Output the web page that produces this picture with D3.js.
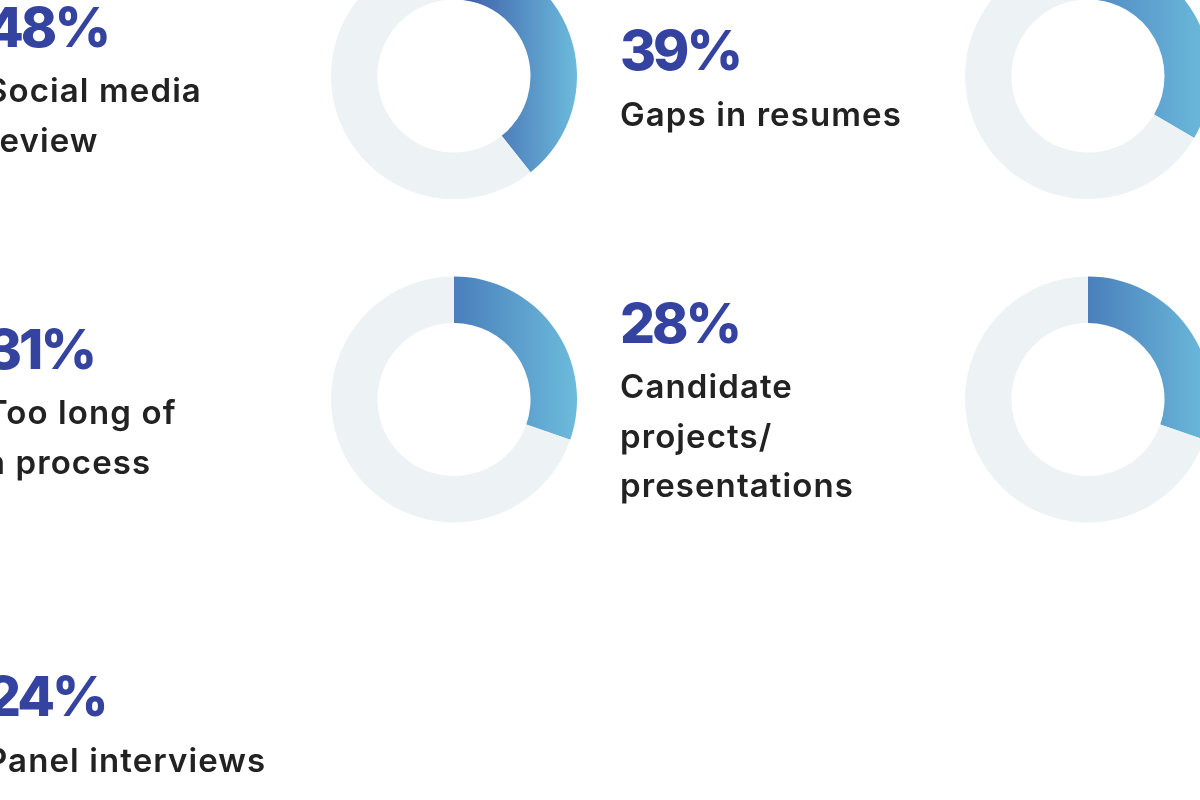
<!DOCTYPE html>
<html>
<head>
<meta charset="utf-8">
<script src="https://cdn.jsdelivr.net/npm/d3@7"></script>
<style>
  html, body { margin: 0; padding: 0; background: #fff; overflow: hidden; }
  svg { display: block; filter: blur(0.6px); }
  text { font-family: Inter, "Noto Sans", sans-serif; }
</style>
</head>
<body>
<svg id="chart" width="1200" height="800"></svg>
<script>
// donut values as drawn (percent of the ring)
const donutValues = [39.3, 33.4, 30.3, 30.3];
const donutRows = [0, 0, 1, 1];
const donutCols = [0, 1, 0, 1];
const donutStartColors = ["#3a57a5", "#5088c2", "#4a7fbb", "#4a7fbb"];

// stat labels
const statValues = ["48%", "39%", "31%", "28%", "24%"];
const statCols = [0, 1, 0, 1, 0];
const statLines = [
  ["Social media", "review"],
  ["Gaps in resumes"],
  ["Too long of", "a process"],
  ["Candidate", "projects/", "presentations"],
  ["Panel interviews"]
];

const svg = d3.select("#chart");

const colX = d3.scaleLinear().domain([0, 1]).range([454, 1088]);
const rowY = d3.scaleLinear().domain([0, 1]).range([76, 399.5]);
const textX = d3.scaleLinear().domain([0, 1]).range([-14, 620]);
const statY = [47, 70, 369, 343, 716];    // baseline of each big number
const captionY = [102, 126, 424, 398, 772]; // baseline of first caption line

const arc = d3.arc().innerRadius(76.5).outerRadius(123);
const pie = d3.pie().sort(null);

const defs = svg.append("defs");

donutValues.forEach((v, i) => {
  const cx = colX(donutCols[i]), cy = rowY(donutRows[i]);
  const grad = defs.append("linearGradient")
    .attr("id", `donut-grad-${i}`)
    .attr("gradientUnits", "userSpaceOnUse")
    .attr("x1", 0).attr("x2", 123).attr("y1", 0).attr("y2", 0);
  grad.append("stop").attr("offset", "0%").attr("stop-color", donutStartColors[i]);
  grad.append("stop").attr("offset", "100%").attr("stop-color", "#6cbbdc");

  const g = svg.append("g").attr("transform", `translate(${cx},${cy})`);
  g.selectAll("path")
    .data(pie([v, 100 - v]))
    .enter()
    .append("path")
    .attr("d", arc)
    .attr("fill", (d, j) => j === 0 ? `url(#donut-grad-${i})` : "#edf3f5");
});

// big numbers and their captions
statValues.forEach((s, i) => {
  const x = textX(statCols[i]);
  svg.append("text")
    .attr("x", x)
    .attr("y", statY[i])
    .attr("fill", "#3543a0")
    .style("font-size", "55px")
    .style("font-weight", 800)
    .style("letter-spacing", "-3px")
    .text(s);

  svg.selectAll(null)
    .data(statLines[i])
    .enter()
    .append("text")
    .attr("x", x)
    .attr("y", (d, j) => captionY[i] + j * 49.5)
    .attr("fill", "#222")
    .style("font-size", "33px")
    .style("font-weight", 600)
    .style("letter-spacing", "1.1px")
    .text(d => d);
});
</script>
</body>
</html>
